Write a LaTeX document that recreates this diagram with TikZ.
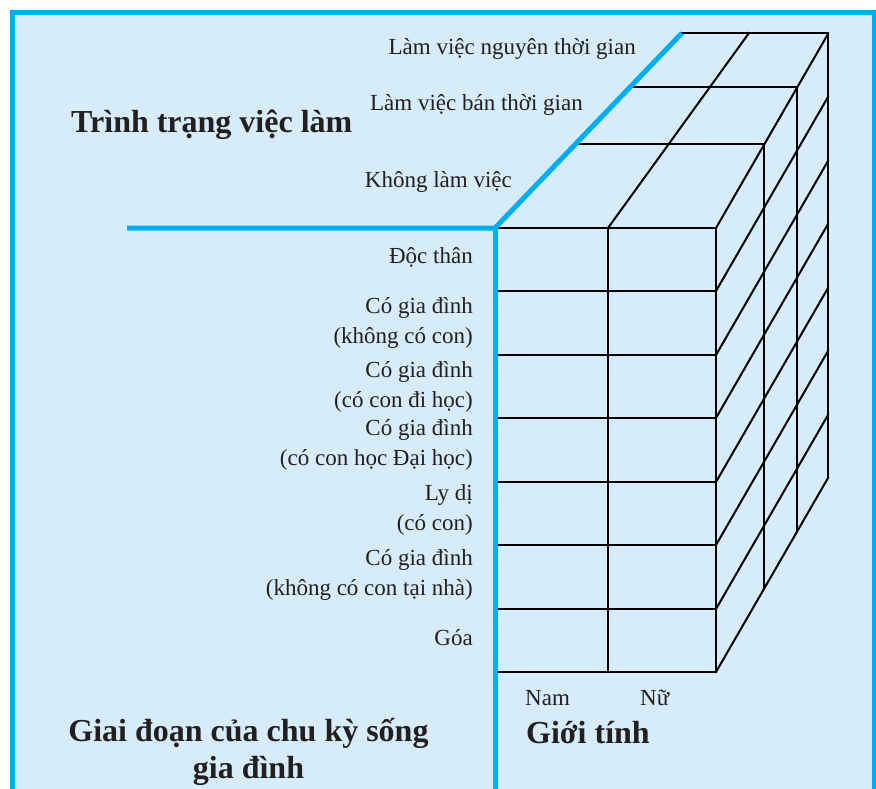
\documentclass[tikz,border=0pt]{standalone}
\usepackage{fontspec}
\setmainfont{Liberation Serif}
\usepackage{tikz}
\usetikzlibrary{calc}
\definecolor{panel}{HTML}{D6ECF9}
\definecolor{rule}{HTML}{00AEEF}
\definecolor{ink}{HTML}{231F20}
\tikzset{
  lbl/.style  = {font=\fontsize{23}{29.5}\selectfont, align=right,
                 inner sep=0pt, text=ink},
  ttl/.style  = {font=\fontsize{32}{37}\selectfont\bfseries, align=center,
                 inner sep=0pt, text=ink},
  cell/.style = {draw=black, line width=2pt, line cap=rect},
  ax/.style   = {draw=rule, line width=5pt},
}

\begin{document}
\begin{tikzpicture}[x=1pt, y=-1pt]
\useasboundingbox (0,0) rectangle (876,789);

%% ---- panel -----------------------------------------------------------
\fill[panel] (12.5,12.5) rectangle (874,789);
\draw[ax] (12.5,789) -- (12.5,12.5) -- (874,12.5) -- (874,789);

%% ---- cube: front face (7 stages x 2 sexes) ----------------------------
\foreach \y in {228,291,355,418,482,545,609,672}
  \draw[cell] (495,\y) -- (716,\y);
\draw[cell] (608,228) -- (608,672);
\draw[cell] (716,228) -- (716,672);

%% ---- cube: right face ------------------------------------------------
\foreach \y in {228,291,355,418,482,545,609,672}
  \draw[cell] (716,\y) -- ++(112,-194);
\draw[cell] (764,144) -- (764,589);
\draw[cell] (797,87)  -- (797,532);
\draw[cell] (828,33)  -- (828,478);

%% ---- cube: top face (3 employment layers) -----------------------------
\draw[cell] (608,228) -- (749,33);
\draw[cell] (576,144) -- (764,144);
\draw[cell] (630.6,87) -- (797,87);
\draw[cell] (682,33)  -- (828,33);

%% ---- blue axes -------------------------------------------------------
\draw[ax] (127,228) -- (495,228) -- (682,33);
\draw[ax] (495,228) -- (495,789);

%% ---- employment layers -----------------------------------------------
\node[lbl, anchor=base east] (full) at (636,55)  {Làm việc nguyên thời gian};
\node[lbl, anchor=base east] (part) at (583,111) {Làm việc bán thời gian};
\node[lbl, anchor=base east] (none) at (512,188) {Không làm việc};
\node[ttl, anchor=base west] (emp)  at (71,133)  {Trình trạng việc làm};

%% ---- life-cycle stages (base = last line) -----------------------------
\node[lbl, anchor=base east] (s1) at (473,263) {Độc thân};
\node[lbl, anchor=base east] (s2) at (473,343) {Có gia đình\\(không có con)};
\node[lbl, anchor=base east] (s3) at (473,407) {Có gia đình\\(có con đi học)};
\node[lbl, anchor=base east] (s4) at (473,465) {Có gia đình\\(có con học Đại học)};
\node[lbl, anchor=base east] (s5) at (473,530) {Ly dị\\(có con)};
\node[lbl, anchor=base east] (s6) at (473,595) {Có gia đình\\(không có con tại nhà)};
\node[lbl, anchor=base east] (s7) at (473,645) {Góa};
\node[ttl, anchor=base] (stage) at (248.5,778)
  {Giai đoạn của chu kỳ sống\\gia đình};

%% ---- sex -------------------------------------------------------------
\node[lbl, anchor=base west] (nam) at (525,705) {Nam};
\node[lbl, anchor=base west] (nu)  at (640,705) {Nữ};
\node[ttl, anchor=base west] (sex) at (526,743) {Giới tính};
\end{tikzpicture}
\end{document}
